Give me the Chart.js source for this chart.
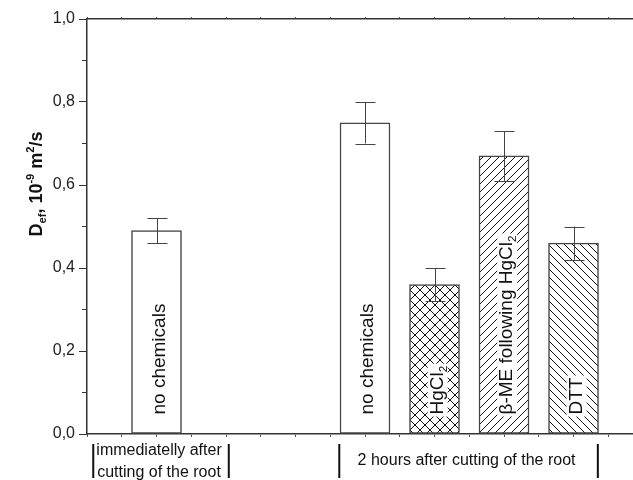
<!DOCTYPE html>
<html>
<head>
<meta charset="utf-8">
<script src="https://cdn.jsdelivr.net/npm/chart.js@4.4.1/dist/chart.umd.min.js"></script>
<style>
  body { margin: 0; background: #fff; }
  #wrap { width: 633px; height: 480px; }
</style>
</head>
<body>
<div id="wrap"><canvas id="chart"></canvas></div>
<script>
// data
const barPositions = [1, 4, 5, 6, 7];
const barValues = [0.49, 0.75, 0.36, 0.67, 0.46];
const errLow = [0.46, 0.70, 0.32, 0.61, 0.42];
const errHigh = [0.52, 0.80, 0.40, 0.73, 0.50];
const barLabels = ['no chemicals', 'no chemicals', 'HgCl_2', 'β-ME following HgCl_2', 'DTT'];
const groupLabels = [['immediatelly after', 'cutting of the root'], ['2 hours after cutting of the root']];
const groupFrom = [0.09, 3.63];
const groupTo = [2.04, 7.35];
const yTicks = [0, 0.2, 0.4, 0.6, 0.8, 1.0];
const yTitle = 'D_{ef}, 10^{-9} m^{2}/s';

const FONT = "'Liberation Sans', Arial, Helvetica, sans-serif";

// hatch fills
function makeHatch(type) {
    const s = type === 'cross' ? 10 : 8;
    const c = document.createElement('canvas');
    c.width = s; c.height = s;
    const g = c.getContext('2d');
    g.fillStyle = '#fff';
    g.fillRect(0, 0, s, s);
    g.strokeStyle = '#111';
    g.lineWidth = 1;
    g.beginPath();
    if (type === 'slash' || type === 'cross') {
        g.moveTo(0, s); g.lineTo(s, 0);
        g.moveTo(-1, 1); g.lineTo(1, -1);
        g.moveTo(s - 1, s + 1); g.lineTo(s + 1, s - 1);
    }
    if (type === 'backslash' || type === 'cross') {
        g.moveTo(0, 0); g.lineTo(s, s);
        g.moveTo(-1, s - 1); g.lineTo(1, s + 1);
        g.moveTo(s - 1, -1); g.lineTo(s + 1, 1);
    }
    g.stroke();
    return g.createPattern(c, 'repeat');
}

// split "HgCl_2" / "10^{-9}" into normal, sub and sup pieces
function parseRich(str) {
    const parts = [];
    const re = /([_^])\{([^}]*)\}|([_^])(.)|([^_^]+)/g;
    let m;
    while ((m = re.exec(str)) !== null) {
        if (m[1]) parts.push({ t: m[2], k: m[1] });
        else if (m[3]) parts.push({ t: m[4], k: m[3] });
        else parts.push({ t: m[5], k: '' });
    }
    return parts;
}

function richWidth(ctx, parts, size, weight) {
    let w = 0;
    parts.forEach(p => {
        const fs = p.k ? size * 0.62 : size;
        ctx.font = weight + ' ' + fs + 'px ' + FONT;
        w += ctx.measureText(p.t).width;
    });
    return w;
}

function drawRich(ctx, parts, x, y, size, weight) {
    ctx.textBaseline = 'alphabetic';
    ctx.textAlign = 'left';
    parts.forEach(p => {
        const fs = p.k ? size * 0.62 : size;
        let dy = 0;
        if (p.k === '_') dy = size * 0.22;
        if (p.k === '^') dy = -size * 0.45;
        ctx.font = weight + ' ' + fs + 'px ' + FONT;
        ctx.fillText(p.t, x, y + dy);
        x += ctx.measureText(p.t).width;
    });
}

const extras = {
    id: 'extras',
    afterDatasetsDraw(chart) {
        const ctx = chart.ctx;
        const y = chart.scales.y;
        const meta = chart.getDatasetMeta(0);

        // labels inside the bars
        meta.data.forEach((bar, i) => {
            const parts = parseRich(barLabels[i]);
            const size = 19;
            ctx.save();
            ctx.translate(bar.x + 8, bar.base - 19);
            ctx.rotate(-Math.PI / 2);
            const w = richWidth(ctx, parts, size, 'normal');
            ctx.fillStyle = '#fff';
            ctx.fillRect(-2, -size * 0.78, w + 4, size * 1.05);
            ctx.fillStyle = '#111';
            drawRich(ctx, parts, 0, 0, size, 'normal');
            ctx.restore();
        });

        // error bars
        ctx.save();
        ctx.strokeStyle = '#444';
        ctx.lineWidth = 1;
        meta.data.forEach((bar, i) => {
            const lo = y.getPixelForValue(errLow[i]);
            const hi = y.getPixelForValue(errHigh[i]);
            const cx = Math.round(bar.x) + 0.5;
            ctx.beginPath();
            ctx.moveTo(cx, lo); ctx.lineTo(cx, hi);
            ctx.moveTo(cx - 10, Math.round(lo) + 0.5); ctx.lineTo(cx + 10, Math.round(lo) + 0.5);
            ctx.moveTo(cx - 10, Math.round(hi) + 0.5); ctx.lineTo(cx + 10, Math.round(hi) + 0.5);
            ctx.stroke();
        });
        ctx.restore();
    },
    afterDraw(chart) {
        const ctx = chart.ctx;
        const x = chart.scales.x;

        // group labels under the axis with bracket lines
        ctx.save();
        ctx.strokeStyle = '#111';
        ctx.lineWidth = 2;
        ctx.fillStyle = '#111';
        ctx.font = '16px ' + FONT;
        ctx.textAlign = 'center';
        ctx.textBaseline = 'middle';
        groupLabels.forEach((lines, i) => {
            const x0 = x.getPixelForValue(groupFrom[i]);
            const x1 = x.getPixelForValue(groupTo[i]);
            ctx.beginPath();
            ctx.moveTo(x0, 444); ctx.lineTo(x0, 478);
            ctx.moveTo(x1, 444); ctx.lineTo(x1, 478);
            ctx.stroke();
            const cx = (x0 + x1) / 2 - 2;
            if (lines.length === 1) {
                ctx.fillText(lines[0], cx, 461);
            } else {
                lines.forEach((l, j) => ctx.fillText(l, cx, 451 + j * 22));
            }
        });
        ctx.restore();

        // y axis title with sub/superscripts
        const parts = parseRich(yTitle);
        ctx.save();
        ctx.fillStyle = '#111';
        const w = richWidth(ctx, parts, 18, 'bold');
        ctx.translate(42, 184 + w / 2);
        ctx.rotate(-Math.PI / 2);
        drawRich(ctx, parts, 0, 0, 18, 'bold');
        ctx.restore();
    }
};

const xMax = 7.856;

new Chart(document.getElementById('chart').getContext('2d'), {
    type: 'bar',
    data: {
        datasets: [{
            data: barPositions.map((p, i) => ({ x: p, y: barValues[i] })),
            backgroundColor: ['#fff', '#fff', makeHatch('cross'), makeHatch('slash'), makeHatch('backslash')],
            borderColor: '#444',
            borderWidth: 1.5,
            borderSkipped: false,
            barThickness: 50
        }]
    },
    options: {
        responsive: true,
        maintainAspectRatio: false,
        animation: false,
        layout: { padding: 0 },
        plugins: {
            legend: { display: false },
            tooltip: { enabled: false }
        },
        scales: {
            x: {
                type: 'linear',
                position: 'bottom',
                min: 0,
                max: xMax,
                offset: false,
                ticks: { display: false, stepSize: 0.5, includeBounds: false },
                grid: { offset: false, drawOnChartArea: false, tickLength: 3, tickColor: '#555' },
                border: { color: '#333', width: 1.5 },
                afterFit: s => { s.height = 46; }
            },
            x2: {
                type: 'linear',
                position: 'top',
                min: 0,
                max: xMax,
                offset: false,
                ticks: { display: false, stepSize: 0.5, includeBounds: false },
                grid: { offset: false, drawOnChartArea: false, tickLength: 2, tickColor: '#555' },
                border: { color: '#333', width: 1.5 },
                afterFit: s => { s.height = 19; }
            },
            y: {
                position: 'left',
                weight: 1,
                min: 0,
                max: 1,
                afterBuildTicks: s => { s.ticks = yTicks.map(v => ({ value: v })); },
                ticks: {
                    padding: 4,
                    color: '#222',
                    font: { size: 16, family: FONT },
                    callback: v => v.toFixed(1).replace('.', ',')
                },
                grid: { drawOnChartArea: false, tickLength: 8, tickColor: '#333' },
                border: { color: '#333', width: 1.5 },
                afterFit: s => { s.width = 87; }
            },
            yMinor: {
                position: 'left',
                weight: 0,
                min: 0,
                max: 1,
                ticks: { display: false, stepSize: 0.1 },
                grid: { drawOnChartArea: false, tickLength: 5, tickColor: '#333' },
                border: { display: false },
                afterFit: s => { s.width = 0; }
            }
        }
    },
    plugins: [extras]
});
</script>
</body>
</html>
